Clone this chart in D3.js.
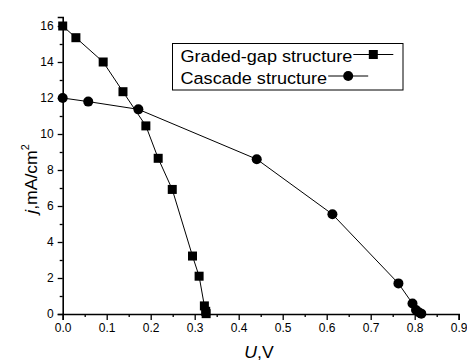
<!DOCTYPE html>
<html>
<head>
<meta charset="utf-8">
<script src="https://cdn.jsdelivr.net/npm/d3@7"></script>
<style>
  body { margin: 0; background: #fff; }
  text { font-family: "Liberation Sans", Arial, sans-serif; fill: #000; }
</style>
</head>
<body>
<div id="chart"></div>
<script>
// graded-gap structure (squares)
const gradedU = [0, 0.03, 0.092, 0.137, 0.189, 0.217, 0.249, 0.295, 0.31, 0.322, 0.325, 0.326];
const gradedJ = [16, 15.35, 14, 12.35, 10.45, 8.65, 6.92, 3.22, 2.1, 0.45, 0.15, 0.02];
// cascade structure (circles)
const cascadeU = [0, 0.058, 0.172, 0.441, 0.613, 0.763, 0.795, 0.803, 0.81, 0.815];
const cascadeJ = [12, 11.8, 11.37, 8.6, 5.54, 1.7, 0.58, 0.22, 0.08, 0.02];

const xTicks = [0, 0.1, 0.2, 0.3, 0.4, 0.5, 0.6, 0.7, 0.8, 0.9];
const yTicks = [0, 2, 4, 6, 8, 10, 12, 14, 16];
const legendNames = ["Graded-gap structure", "Cascade structure"];

var width = 467, height = 362;
var margin = {top: 17, right: 8, bottom: 48, left: 62.7};

var svg = d3.select("#chart").append("svg")
    .attr("width", width)
    .attr("height", height);

var x = d3.scaleLinear().domain([0, 0.9]).range([margin.left, 458.7]);
var y = d3.scaleLinear().domain([0, 16.5]).range([314, 17]);

// X axis
var xAxis = svg.append("g")
    .attr("transform", "translate(0,314)")
    .call(d3.axisBottom(x).tickValues(xTicks).tickFormat(d3.format(".1f")).tickSizeOuter(0).tickSize(6).tickPadding(3));
svg.append("g")
    .attr("transform", "translate(0,314)")
    .call(d3.axisBottom(x).tickValues(d3.range(0.05, 0.9, 0.1)).tickFormat("").tickSizeOuter(0).tickSize(3))
    .select(".domain").remove();

// Y axis
var yAxis = svg.append("g")
    .attr("transform", "translate(" + margin.left + ",0)")
    .call(d3.axisLeft(y).tickValues(yTicks).tickFormat(d3.format("d")).tickSizeOuter(0).tickSize(5).tickPadding(4));
svg.append("g")
    .attr("transform", "translate(" + margin.left + ",0)")
    .call(d3.axisLeft(y).tickValues(d3.range(1, 17, 2)).tickFormat("").tickSizeOuter(0).tickSize(3))
    .select(".domain").remove();

svg.selectAll(".domain").attr("stroke-width", 1.6);
svg.selectAll(".tick line").attr("stroke-width", 1.3);
svg.selectAll(".tick text").style("font-size", "12px").style("font-family", "Liberation Sans, Arial, sans-serif");

// axis titles
svg.append("text")
    .attr("transform", "translate(259,358) scale(1.08,1)")
    .attr("text-anchor", "middle")
    .style("font-size", "16.3px")
    .html('<tspan font-style="italic">U</tspan>,V');

svg.append("text")
    .attr("transform", "translate(37,179) rotate(-90) scale(1.08,1)")
    .attr("text-anchor", "middle")
    .style("font-size", "16.3px")
    .html('<tspan font-style="italic">j</tspan>,mA/cm<tspan dy="-8" font-size="10px">2</tspan>');

// data lines
var line = d3.line().x(d => x(d[0])).y(d => y(d[1]));
var graded = gradedU.map((u, i) => [u, gradedJ[i]]);
var cascade = cascadeU.map((u, i) => [u, cascadeJ[i]]);

svg.append("path").datum(graded)
    .attr("d", line).attr("fill", "none").attr("stroke", "#000").attr("stroke-width", 1);
svg.append("path").datum(cascade)
    .attr("d", line).attr("fill", "none").attr("stroke", "#000").attr("stroke-width", 1);

var sq = 9;
svg.selectAll(".sq").data(graded).enter().append("rect")
    .attr("x", d => x(d[0]) - sq / 2)
    .attr("y", d => y(d[1]) - sq / 2)
    .attr("width", sq).attr("height", sq)
    .attr("fill", "#000");
svg.selectAll(".ci").data(cascade).enter().append("circle")
    .attr("cx", d => x(d[0]))
    .attr("cy", d => y(d[1]))
    .attr("r", 5)
    .attr("fill", "#000");

// legend
var stretch = 1.11;
var lg = svg.append("g");
lg.append("rect")
    .attr("x", 172.5).attr("y", 43.5)
    .attr("width", 230.5).attr("height", 46.5)
    .attr("fill", "#fff").attr("stroke", "#000").attr("stroke-width", 1);
legendNames.forEach(function (name, i) {
    var ty = 62 + i * 21.5;
    var t = lg.append("text")
        .attr("transform", "translate(180.5," + ty + ") scale(" + stretch + ",1)")
        .style("font-size", "16.3px")
        .text(name + (i === 1 ? " " : ""));
    var w = t.node().getComputedTextLength() * stretch;
    var x0 = 181.5 + w, x1 = x0 + 40, cy = ty - 7.5;
    lg.append("line").attr("x1", x0).attr("x2", x1).attr("y1", cy).attr("y2", cy)
        .attr("stroke", "#000").attr("stroke-width", 1);
    if (i === 0) {
        lg.append("rect").attr("x", (x0 + x1) / 2 - 4.5).attr("y", cy - 4.5)
            .attr("width", 9).attr("height", 9).attr("fill", "#000");
    } else {
        lg.append("circle").attr("cx", (x0 + x1) / 2).attr("cy", cy).attr("r", 5).attr("fill", "#000");
    }
});
</script>
</body>
</html>
